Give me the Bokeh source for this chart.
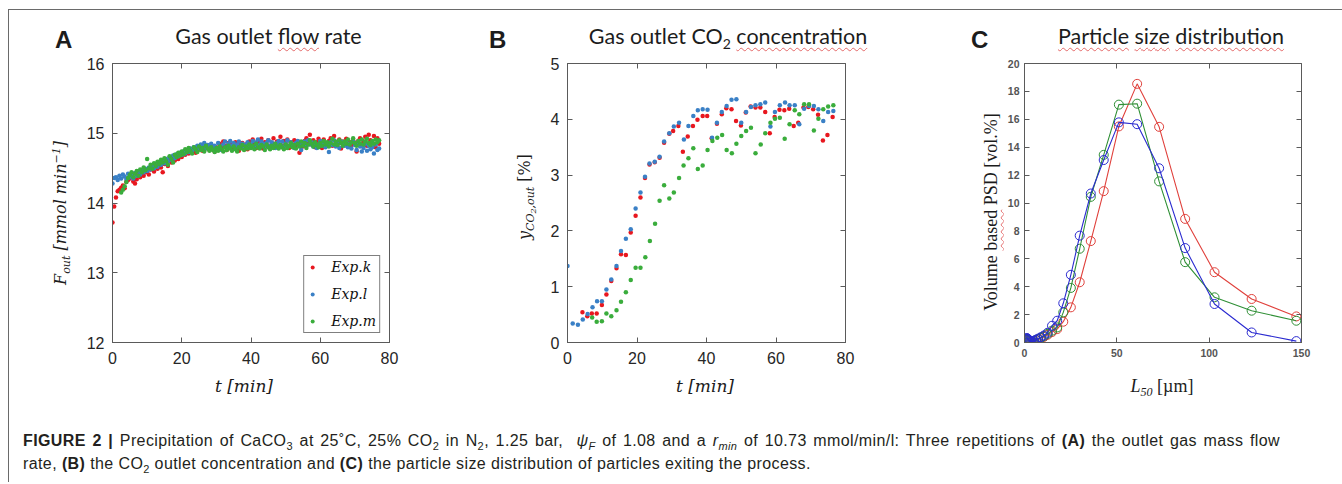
import numpy as np
from bokeh.plotting import figure
from bokeh.models import (ColumnDataSource, Legend, LegendItem, LinearAxis,
                          FixedTicker, Range1d, Div, Spacer)
from bokeh.layouts import row, column
from bokeh.embed import file_html
from bokeh.resources import INLINE

# ---------------- Panel A: gas outlet flow rate (mmol/min), sampled every 0.5 min ----------------
t_a = np.arange(0, 77.5, 0.5)
flow_k = [13.72, 13.95, 14.08, 14.17, 14.19, 14.22, 14.25, 14.21, 14.30, 14.33,
          14.35, 14.38, 14.31, 14.28, 14.34, 14.40, 14.37, 14.42, 14.39, 14.44,
          14.46, 14.41, 14.48, 14.50, 14.45, 14.52, 14.49, 14.55, 14.51, 14.44,
          14.56, 14.60, 14.53, 14.62, 14.58, 14.64, 14.61, 14.67, 14.63, 14.70,
          14.66, 14.72, 14.69, 14.74, 14.71, 14.76, 14.73, 14.78, 14.72, 14.80,
          14.77, 14.82, 14.75, 14.84, 14.79, 14.81, 14.76, 14.83, 14.78, 14.74,
          14.80, 14.77, 14.85, 14.79, 14.88, 14.82, 14.76, 14.86, 14.80, 14.84,
          14.78, 14.87, 14.81, 14.75, 14.83, 14.86, 14.79, 14.84, 14.77, 14.88,
          14.82, 14.91, 14.85, 14.79, 14.89, 14.84, 14.92, 14.78, 14.87, 14.83,
          14.90, 14.81, 14.86, 14.93, 14.80, 14.88, 14.84, 14.95, 14.82, 14.89,
          14.86, 14.91, 14.79, 14.87, 14.84, 14.90, 14.83, 14.88, 14.72, 14.86,
          14.81, 14.89, 14.93, 14.85, 14.98, 14.84, 14.90, 14.80, 14.87, 14.92,
          14.85, 14.79, 14.91, 14.86, 14.83, 14.89, 14.93, 14.82, 14.96, 14.87,
          14.84, 14.91, 14.78, 14.88, 14.85, 14.92, 14.81, 14.87, 14.83, 14.90,
          14.86, 14.74, 14.89, 14.93, 14.84, 14.88, 14.95, 14.82, 14.98, 14.90,
          14.87, 14.96, 14.80, 14.93, 14.85]
flow_l = [14.28, 14.36, 14.37, 14.33, 14.39, 14.35, 14.41, 14.38, 14.34, 14.42,
          14.37, 14.40, 14.35, 14.43, 14.39, 14.45, 14.41, 14.47, 14.44, 14.49,
          14.46, 14.51, 14.48, 14.54, 14.50, 14.56, 14.52, 14.58, 14.55, 14.61,
          14.57, 14.63, 14.60, 14.66, 14.62, 14.68, 14.64, 14.70, 14.67, 14.72,
          14.69, 14.74, 14.71, 14.76, 14.73, 14.78, 14.75, 14.80, 14.77, 14.82,
          14.79, 14.84, 14.81, 14.86, 14.78, 14.83, 14.80, 14.85, 14.77, 14.82,
          14.79, 14.86, 14.81, 14.76, 14.84, 14.88, 14.80, 14.85, 14.89, 14.82,
          14.86, 14.79, 14.84, 14.88, 14.81, 14.85, 14.78, 14.83, 14.87, 14.80,
          14.84, 14.89, 14.82, 14.87, 14.91, 14.83, 14.88, 14.85, 14.80, 14.86,
          14.90, 14.82, 14.87, 14.84, 14.79, 14.86, 14.89, 14.83, 14.88, 14.81,
          14.85, 14.90, 14.82, 14.87, 14.84, 14.79, 14.86, 14.89, 14.83, 14.76,
          14.85, 14.88, 14.82, 14.90, 14.84, 14.87, 14.81, 14.86, 14.79, 14.84,
          14.89, 14.82, 14.86, 14.80, 14.85, 14.73, 14.87, 14.83, 14.90, 14.81,
          14.86, 14.79, 14.88, 14.84, 14.82, 14.87, 14.80, 14.85, 14.78, 14.89,
          14.83, 14.76, 14.86, 14.81, 14.74, 14.79, 14.85, 14.75, 14.82, 14.77,
          14.80, 14.71, 14.84, 14.76, 14.78]
flow_m = [None, None, None, None, None, 14.15, 14.19, 14.24, 14.30, 14.36,
          14.40, 14.44, 14.37, 14.42, 14.46, 14.39, 14.48, 14.44, 14.51, 14.47,
          14.63, 14.50, 14.55, 14.49, 14.57, 14.53, 14.59, 14.56, 14.62, 14.58,
          14.64, 14.60, 14.55, 14.67, 14.63, 14.58, 14.69, 14.66, 14.72, 14.68,
          14.74, 14.70, 14.77, 14.73, 14.79, 14.75, 14.71, 14.80, 14.77, 14.73,
          14.81, 14.76, 14.79, 14.74, 14.82, 14.78, 14.75, 14.80, 14.76, 14.73,
          14.79, 14.75, 14.81, 14.77, 14.74, 14.80, 14.76, 14.82, 14.78, 14.75,
          14.81, 14.77, 14.74, 14.80, 14.78, 14.83, 14.76, 14.81, 14.78, 14.84,
          14.79, 14.82, 14.77, 14.85, 14.80, 14.78, 14.83, 14.81, 14.76, 14.84,
          14.80, 14.77, 14.82, 14.79, 14.85, 14.81, 14.78, 14.83, 14.80, 14.77,
          14.84, 14.79, 14.82, 14.86, 14.80, 14.83, 14.78, 14.85, 14.81, 14.88,
          14.82, 14.86, 14.79, 14.84, 14.90, 14.85, 14.81, 14.87, 14.83, 14.80,
          14.86, 14.82, 14.89, 14.84, 14.87, 14.81, 14.86, 14.92, 14.84, 14.88,
          14.83, 14.90, 14.86, 14.82, 14.88, 14.85, 14.91, 14.84, 14.87, 14.93,
          14.86, 14.82, 14.89, 14.85, 14.91, 14.84, 14.88, 14.92, 14.86, 14.83,
          14.89, 14.85, 14.91, 14.87, 14.90]

# ---------------- Panel B: gas outlet CO2 concentration (%) ----------------
t_k = [4.3, 5.7, 7.0, 8.4, 9.9, 11.2, 12.6, 14.1, 15.4, 16.8, 18.2, 19.6, 21.0,
       22.3, 23.6, 25.1, 26.5, 27.8, 29.3, 30.4, 31.9, 33.2, 34.6, 36.1, 37.4,
       38.9, 40.2, 41.5, 43.0, 44.4, 45.7, 47.2, 48.5, 49.9, 51.3, 52.7, 54.1,
       55.5, 56.9, 58.2, 59.6, 61.0, 62.4, 63.8, 65.1, 66.4, 67.9, 69.3, 70.7,
       72.1, 73.5, 74.8, 76.3]
co2_k = [0.54, 0.47, 0.52, 0.52, 0.67, 0.86, 1.10, 1.33, 1.58, 1.57, 1.97, 2.27, 2.60,
         2.95, 3.19, 3.23, 3.31, 3.58, 3.74, 3.79, 3.88, 3.42, 3.69, 3.88, 3.99,
         4.06, 4.06, 3.66, 3.92, 4.09, 4.20, 4.18, 3.97, 3.89, 4.12, 4.23, 4.21,
         4.21, 4.13, 3.75, 4.04, 4.17, 4.16, 4.19, 3.88, 3.94, 4.21, 4.22, 4.18,
         4.08, 3.62, 3.72, 4.04]
t_l = [0.0, 1.5, 3.0, 4.4, 5.8, 7.2, 8.5, 9.9, 11.2, 12.6, 14.1, 15.4, 16.8, 18.2,
       19.6, 21.0, 22.3, 23.6, 25.1, 26.5, 27.8, 29.3, 30.6, 32.1, 33.5, 34.8, 36.2,
       37.5, 38.9, 40.3, 41.6, 43.0, 44.4, 45.8, 47.2, 48.6, 50.0, 51.4, 52.8, 54.1,
       55.5, 56.9, 58.4, 59.7, 61.1, 62.6, 63.9, 65.4, 66.7, 68.1, 69.5, 70.9, 72.2,
       73.6, 75.0, 76.5]
co2_l = [1.37, 0.34, 0.32, 0.41, 0.51, 0.63, 0.74, 0.74, 0.95, 1.13, 1.37, 1.64, 1.86,
         2.03, 2.40, 2.69, 2.97, 3.21, 3.24, 3.33, 3.60, 3.75, 3.87, 3.94, 3.64, 3.88,
         4.06, 4.16, 4.18, 4.17, 3.67, 3.94, 4.13, 4.24, 4.35, 4.36, 3.94, 4.13, 4.22,
         4.25, 4.27, 4.30, 3.87, 4.13, 4.25, 4.30, 4.25, 4.25, 3.91, 4.19, 4.24, 4.24,
         4.18, 3.97, 4.13, 4.15]
t_m = [7.1, 8.4, 9.9, 11.2, 12.6, 14.1, 15.4, 16.8, 18.2, 19.6, 21.0, 22.4, 23.7,
       25.2, 26.5, 27.8, 29.3, 30.6, 32.1, 33.4, 34.8, 36.2, 37.5, 38.9, 40.3, 41.7,
       43.1, 44.5, 45.8, 47.3, 48.6, 50.0, 51.4, 52.8, 54.1, 55.6, 56.9, 58.4, 59.7,
       61.1, 62.5, 63.9, 65.4, 66.7, 68.1, 69.5, 70.9, 72.2, 73.6, 75.0, 76.5]
co2_m = [0.45, 0.37, 0.38, 0.52, 0.47, 0.58, 0.73, 0.90, 1.12, 1.34, 1.34, 1.53, 1.82,
         2.13, 2.54, 2.82, 2.58, 2.69, 2.95, 3.17, 3.30, 3.48, 3.11, 3.17, 3.45, 3.61,
         3.67, 3.72, 3.45, 3.39, 3.56, 3.70, 3.79, 3.85, 3.39, 3.55, 3.75, 3.94, 4.01,
         4.03, 3.65, 3.91, 4.16, 4.09, 4.27, 4.27, 3.80, 4.01, 4.18, 4.23, 4.25]

# ---------------- Panel C: particle size distribution (vol.%) ----------------
l50 = [1.1, 1.3, 1.5, 1.8, 2.2, 2.6, 3.1, 3.7, 4.4, 5.2, 6.2, 7.4, 8.8, 10.5, 12.5,
       14.9, 17.7, 21.0, 25.1, 29.9, 35.9, 42.9, 51.1, 61.0, 72.9, 87.0, 102.9, 123.0, 147.2]
psd_k = [0.22, 0.22, 0.20, 0.18, 0.14, 0.10, 0.07, 0.05, 0.06, 0.10, 0.16, 0.22, 0.30,
         0.40, 0.55, 0.75, 0.96, 1.49, 2.52, 4.32, 7.27, 10.85, 15.49, 18.54, 15.46,
         8.86, 5.04, 3.12, 1.87]
psd_m = [0.25, 0.26, 0.24, 0.21, 0.17, 0.12, 0.08, 0.06, 0.07, 0.12, 0.18, 0.25, 0.33,
         0.45, 0.62, 0.85, 1.08, 2.16, 3.91, 6.72, 10.44, 13.45, 17.05, 17.12, 11.55,
         5.76, 3.24, 2.28, 1.56]
psd_l = [0.30, 0.31, 0.29, 0.25, 0.20, 0.15, 0.10, 0.06, 0.06, 0.12, 0.20, 0.28, 0.38,
         0.50, 0.70, 1.20, 1.56, 2.81, 4.85, 7.66, 10.68, 13.08, 15.78, 15.65, 12.49,
         6.77, 2.76, 0.72, 0.10]

series_labels = ["Exp.k", "Exp.l", "Exp.m"]
ticks_t = [0, 20, 40, 60, 80]
ticks_flow = [12, 13, 14, 15, 16]
ticks_co2 = [0, 1, 2, 3, 4, 5]
ticks_l50 = [0, 50, 100, 150]
ticks_psd = list(range(0, 21, 2))

# ---------------- styling ----------------
RED, BLUE, GREEN = "#e8171f", "#3a80c6", "#3aad3c"
C_RED, C_GREEN, C_BLUE = "#e0413c", "#2f8f35", "#2b2bd0"
AX = "#5a5a5a"
SANS = "Liberation Sans"
SQUIG = "text-decoration:underline wavy #e46a6a;text-decoration-thickness:1px;text-underline-offset:3px;"


def plot_fig(width, left, right, xr, yr, xt, yt, tick_size, tick_color,
             tick_style, x_stand, y_stand):
    p = figure(width=width, height=320, x_range=Range1d(*xr), y_range=Range1d(*yr),
               output_backend="svg", toolbar_location=None,
               min_border_left=left, min_border_right=right,
               min_border_top=11, min_border_bottom=30)
    p.grid.visible = False
    p.outline_line_color = AX
    p.outline_line_width = 1
    p.background_fill_color = "white"
    p.border_fill_color = "white"
    p.xaxis.ticker = FixedTicker(ticks=xt)
    p.yaxis.ticker = FixedTicker(ticks=yt)
    for ax, st in ((p.xaxis, x_stand), (p.yaxis, y_stand)):
        ax.axis_line_color = AX
        ax.major_tick_line_color = AX
        ax.major_tick_in = 5
        ax.major_tick_out = 0
        ax.minor_tick_line_color = None
        ax.major_label_text_font = SANS
        ax.major_label_text_font_size = tick_size
        ax.major_label_text_color = tick_color
        ax.major_label_text_font_style = tick_style
        ax.major_label_standoff = st
    for loc, tk in (("above", xt), ("right", yt)):
        ax = LinearAxis(ticker=FixedTicker(ticks=tk), axis_line_color=None,
                        major_tick_line_color=AX, major_tick_in=5, major_tick_out=0,
                        minor_tick_line_color=None,
                        major_label_overrides={v: "" for v in tk},
                        major_label_text_font_size="1px", major_label_standoff=0)
        p.add_layout(ax, loc)
    return p


def abs_span(html, left, top, style, center=False, rotate=False):
    tf = ""
    if rotate:
        tf = "transform:translate(-50%,-50%) rotate(-90deg);"
    elif center:
        tf = "transform:translateX(-50%);"
    return ('<div style="position:absolute;left:%.1fpx;top:%.1fpx;white-space:nowrap;%s%s">%s</div>'
            % (left, top, tf, style, html))


def text_box(width, height, parts):
    inner = "".join(parts)
    return Div(text='<div style="position:relative;width:%dpx;height:%dpx;color:#1c1c1c;">%s</div>'
               % (width, height, inner), width=width, height=height, margin=0)


def sub(txt, size, dy):
    return '<span style="font-size:%dpx;position:relative;top:%dpx;">%s</span>' % (size, dy, txt)


# ---------------- header (page x 9..1342, y 10..52): letters and panel titles ----------------
LET = "font-family:'Liberation Sans';font-weight:bold;font-size:24px;line-height:24px;"
TIT = "font-family:'Lato';font-size:21.5px;line-height:21.5px;"
header = text_box(1333, 42, [
    abs_span("A", 46, 17.5, LET),
    abs_span('Gas outlet <span style="%s">flow</span> rate' % SQUIG, 259.5, 16, TIT, center=True),
    abs_span("B", 480, 17.5, LET),
    abs_span('Gas outlet CO%s <span style="%s">concentration</span>' % (sub("2", 14, 5), SQUIG),
             719, 16, TIT, center=True),
    abs_span("C", 962, 17.5, LET),
    abs_span('<span style="%s">Particle</span> <span style="%s">size</span> '
             '<span style="%s">distribution</span>' % (SQUIG, SQUIG, SQUIG),
             1162, 16, TIT, center=True),
])

# ---------------- y-axis label strips (page y 52..372) ----------------
MATH = "font-family:'DejaVu Serif';font-style:italic;font-size:16px;line-height:16px;"
labA = text_box(71, 320, [
    abs_span("F" + sub("out", 11, 4) + " [mmol min" + sub("\u22121", 11, -6) + "]",
             53, 161, MATH, rotate=True)])
labB = text_box(78, 320, [
    abs_span("y" + '<span style="font-size:11px;position:relative;top:4px;">CO'
             '<span style="font-size:8px;position:relative;top:2px;">2</span>,out</span>'
             ' <span style="font-style:normal;">[%]</span>',
             64, 145, MATH, rotate=True)])
labC = text_box(83, 320, [
    abs_span('Volume <span style="%s">based</span> PSD [vol.%%]' % SQUIG, 71, 159.5,
             "font-family:'Liberation Serif';font-size:18px;line-height:18px;", rotate=True)])

# ---------------- Panel A ----------------
pA = plot_fig(382, 32, 73, (0, 80), (12, 16), ticks_t, ticks_flow, "16px",
              "#262626", "normal", 9, 8)
srcA = ColumnDataSource(dict(t=t_a, k=flow_k, l=flow_l, m=flow_m))
rA = []
for col, c in (("k", RED), ("l", BLUE), ("m", GREEN)):
    rA.append(pA.scatter("t", col, source=srcA, size=4.5, color=c, line_color=None))
leg = Legend(items=[LegendItem(label=lab, renderers=[r]) for lab, r in zip(series_labels, rA)],
             location="bottom_right", margin=9, padding=3, spacing=11,
             glyph_height=16, glyph_width=10, label_standoff=14, label_height=16,
             label_text_font="DejaVu Serif", label_text_font_style="italic",
             label_text_font_size="14px", label_text_color="#111111",
             border_line_color="black", border_line_width=1.5,
             background_fill_color="white", background_fill_alpha=1)
pA.add_layout(leg)

# ---------------- Panel B ----------------
pB = plot_fig(380, 27, 75, (0, 80), (0, 5), ticks_t, ticks_co2, "16px",
              "#262626", "normal", 9, 8)
pB.scatter(t_k, co2_k, size=4.5, color=RED, line_color=None)
pB.scatter(t_l, co2_l, size=4.5, color=BLUE, line_color=None)
pB.scatter(t_m, co2_m, size=4.5, color=GREEN, line_color=None)

# ---------------- Panel C ----------------
pC = plot_fig(339, 21, 41, (0, 150), (0, 20), ticks_l50, ticks_psd, "10.5px",
              "#555555", "bold", 6, 5)
for ys, c in ((psd_k, C_RED), (psd_m, C_GREEN), (psd_l, C_BLUE)):
    pC.line(l50, ys, color=c, line_width=1.1)
    pC.scatter(l50, ys, marker="circle", size=9, fill_color=None, line_color=c, line_width=1)

# ---------------- footer (page y 372..402): x-axis labels ----------------
XL = "font-family:'DejaVu Serif';font-style:italic;font-size:17px;line-height:17px;"
LL = "font-family:'Liberation Serif';font-size:18px;line-height:18px;"
footer = text_box(1333, 30, [
    abs_span("t [min]", 235, 5.5, XL, center=True),
    abs_span("t [min]", 696, 5.5, XL, center=True),
    abs_span("<i>L</i>" + '<span style="font-size:12px;font-style:italic;position:relative;top:4px;">50</span>'
             " [\u00b5m]", 1153, 5, LL, center=True),
])

# ---------------- caption ----------------
def csub(t):
    return '<span style="font-size:11px;position:relative;top:4px;">%s</span>' % t


caption_html = (
    '<div style="font-family:\'Liberation Sans\',Arial,sans-serif;font-size:16px;'
    'letter-spacing:0.4px;line-height:21px;color:#231f20;padding:28px 0 0 14px;">'
    '<div style="width:1257px;text-align:justify;text-align-last:justify;white-space:nowrap;">'
    '<b>FIGURE 2 |</b> Precipitation of CaCO' + csub("3") + ' at 25\u02daC, '
    '25% CO' + csub("2") + ' in N' + csub("2") + ', 1.25 bar, '
    '&nbsp;<i>\u03c8' + csub("F") + '</i> of 1.08 and a '
    '<i>r' + csub("min") + '</i> of 10.73 mmol/min/l: Three repetitions of '
    '<b>(A)</b> the outlet gas mass flow</div>'
    '<div style="white-space:nowrap;">'
    'rate, <b>(B)</b> the CO' + csub("2") + ' outlet concentration and '
    '<b>(C)</b> the particle size distribution of particles exiting the process.</div></div>'
)
caption = Div(text=caption_html, width=1333, height=80, margin=0)

inner = column(header, row(labA, pA, labB, pB, labC, pC), footer, caption,
               styles={"border-top": "1px solid #6a6a6a", "border-left": "1px solid #6a6a6a"})
layout = column(Spacer(height=9, width=1342), row(Spacer(width=8, height=10), inner))

open("out.html", "w").write(file_html(layout, INLINE))
